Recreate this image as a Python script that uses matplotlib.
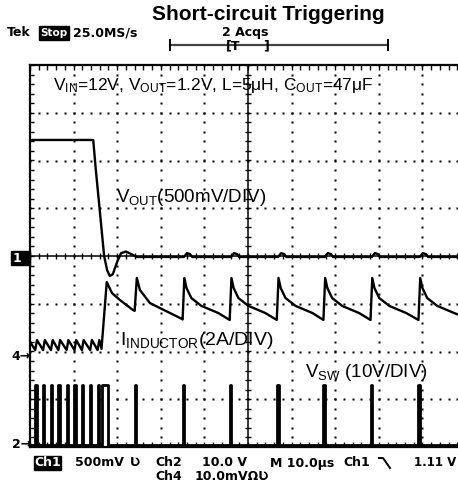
import numpy as np
import matplotlib
matplotlib.use("Agg")
import matplotlib.pyplot as plt
from matplotlib.patches import Rectangle

plt.rcParams['font.family'] = ['Liberation Sans', 'DejaVu Sans']
plt.rcParams['mathtext.fontset'] = 'custom'
plt.rcParams['mathtext.rm'] = 'Liberation Sans'
plt.rcParams['mathtext.it'] = 'Liberation Sans:italic'
plt.rcParams['mathtext.bf'] = 'Liberation Sans:bold'

# ---- data read from the scope shot (time in us) ----
# Ch1: V_OUT (V), 500 mV/div, ground at centre line
vout_t = [0.0, 14.5, 15.1, 16.1, 17.0, 17.7, 18.3, 19.0, 20.0, 20.9, 22.0, 23.2, 24.5,
          35.3, 36.0, 36.7, 37.2, 46.1, 46.8, 47.5, 48.0, 56.9, 57.6, 58.3, 58.8,
          67.6, 68.3, 69.0, 69.5, 78.4, 79.1, 79.8, 80.3, 89.4, 90.1, 90.8, 91.3, 99.0]
vout_v = [1.215, 1.215, 0.90, 0.43, 0.0, -0.15, -0.21, -0.19, -0.06, 0.03, 0.047, 0.02, -0.01,
          -0.01, 0.03, 0.02, -0.01, -0.01, 0.03, 0.02, -0.01, -0.01, 0.03, 0.02, -0.01,
          -0.01, 0.03, 0.02, -0.01, -0.01, 0.03, 0.02, -0.01, -0.01, 0.03, 0.02, -0.01, -0.01]

# Ch4: inductor current (A), 2 A/div
il_t = [0.0, 1.2, 1.6, 3.0, 3.4, 4.8, 5.2, 6.5, 6.9, 8.4, 8.8, 10.2, 10.6, 11.9, 12.3,
        13.8, 14.2, 15.5, 15.9, 16.4, 17.6, 18.8, 20.6, 23.6, 24.0, 24.5, 25.2, 27.5,
        29.8, 34.9, 35.0, 35.4, 35.9, 37.0, 39.3, 43.2, 45.8, 46.2, 46.7, 47.8, 50.1,
        54.0, 56.6, 57.0, 57.5, 58.6, 60.9, 64.8, 67.3, 67.7, 68.2, 69.3, 71.6, 75.5,
        78.1, 78.5, 79.0, 80.1, 82.4, 86.3, 89.1, 89.5, 90.0, 91.1, 93.4, 97.3, 99.0]
il_a = [0.64, 0.29, 0.71, 0.29, 0.71, 0.29, 0.71, 0.29, 0.71, 0.29, 0.71, 0.29, 0.71, 0.29, 0.71,
        0.29, 0.71, 0.29, 0.71, 0.34, 3.14, 2.68, 2.39, 1.97, 1.93, 3.31, 2.81, 2.26,
        2.05, 1.59, 1.57, 3.31, 2.89, 2.47, 2.14, 1.84, 1.55, 3.31, 2.89, 2.47, 2.14,
        1.84, 1.55, 3.31, 2.89, 2.47, 2.14, 1.84, 1.55, 3.31, 2.89, 2.47, 2.14, 1.84,
        1.55, 3.31, 2.89, 2.47, 2.14, 1.84, 1.55, 3.31, 2.89, 2.47, 2.14, 1.84, 1.72]

# Ch2: switch node pulses (V), 10 V/div
sw_rise = [1.2, 3.0, 4.8, 6.5, 8.4, 10.2, 11.9, 13.8, 15.5, 16.6,
           24.0, 35.0, 45.8, 56.6, 67.3, 78.1, 89.1]
sw_fall = [1.5, 3.3, 5.1, 6.8, 8.7, 10.5, 12.2, 14.1, 15.8, 17.8,
           24.4, 35.4, 46.2, 57.0, 67.7, 78.5, 89.5]
sw_high = 12.6

# channel settings: volts(or amps)/div and ground position in divisions
ch1_scale, ch1_pos = 0.5, 0.0
ch4_scale, ch4_pos = 2.0, -2.115
ch2_scale, ch2_pos = 10.0, -3.96
trig_level = 1.11

W, H = 458, 483
fig = plt.figure(figsize=(W / 100, H / 100), dpi=100)
fig.patch.set_facecolor('white')

# graticule spans x 30..466 px (right part cut off), y 65..447 px
gl, gr, gt, gb = 30, 466, 65, 447
ax = fig.add_axes([gl / W, 1 - gb / H, (gr - gl) / W, (gb - gt) / H])
ax.set_xlim(0, 100)
ax.set_ylim(-4, 4)
ax.set_xticks([])
ax.set_yticks([])
for s in ax.spines.values():
    s.set_linewidth(1.6)
    s.set_color('black')

# dotted division lines
minor_x = np.arange(0, 100.01, 2.0)
minor_y = np.arange(-4, 4.01, 0.2)
for xm in range(10, 100, 10):
    if xm == 50:
        continue
    ax.plot(np.full_like(minor_y, xm), minor_y, ls='none', marker='s', ms=1.5,
            mfc='black', mec='none')
for ym in range(-3, 4):
    if ym == 0:
        continue
    ax.plot(minor_x, np.full_like(minor_x, ym), ls='none', marker='s', ms=1.5,
            mfc='black', mec='none')

# centre cross with ticks
ax.axvline(50, color='black', lw=1.1)
ax.axhline(0, color='black', lw=1.1)
ax.hlines(minor_y, 49.3, 50.7, color='black', lw=1.0)
ax.vlines(minor_x, -0.07, 0.07, color='black', lw=1.0)
# frame ticks
ax.hlines(minor_y, 0, 0.9, color='black', lw=1.0)
ax.vlines(minor_x, 3.9, 4.0, color='black', lw=1.0)
ax.vlines(minor_x, -4.0, -3.9, color='black', lw=1.0)

# one axes per channel, stacked like the scope's own offsets
a1 = ax.twinx()
a1.set_ylim((-4 - ch1_pos) * ch1_scale, (4 - ch1_pos) * ch1_scale)
a4 = ax.twinx()
a4.set_ylim((-4 - ch4_pos) * ch4_scale, (4 - ch4_pos) * ch4_scale)
a2 = ax.twinx()
a2.set_ylim((-4 - ch2_pos) * ch2_scale, (4 - ch2_pos) * ch2_scale)
for a in (a1, a4, a2):
    a.set_xlim(0, 100)
    a.axis('off')

sw_t, sw_v = [0.0], [0.0]
for r, f in zip(sw_rise, sw_fall):
    sw_t += [r, r, f, f]
    sw_v += [0.0, sw_high, sw_high, 0.0]
sw_t.append(99.0)
sw_v.append(0.0)

a1.plot(vout_t, vout_v, color='black', lw=1.7)
a4.plot(il_t, il_a, color='black', lw=1.7)
a2.plot(sw_t, sw_v, color='black', lw=2.0)
a1.plot([100], [trig_level], marker='<', ms=6, color='black', clip_on=False)

# overlay in pixel coordinates for the scope read-outs and labels
ov = fig.add_axes([0, 0, 1, 1])
ov.set_xlim(0, W)
ov.set_ylim(H, 0)
ov.axis('off')
ov.patch.set_alpha(0)

ov.text(268, 15, 'Short-circuit Triggering', ha='center', va='center',
        fontsize=15, fontweight='bold')

scope = dict(fontsize=9, fontweight='bold', family='DejaVu Sans')
ov.text(7, 33, 'Tek', ha='left', va='center', **scope)
ov.add_patch(Rectangle((39, 26), 30, 14, color='black'))
ov.text(54, 33, 'Stop', ha='center', va='center', color='white',
        fontsize=7.5, fontweight='bold', family='DejaVu Sans')
ov.text(73, 33, '25.0MS/s', ha='left', va='center', **scope)
ov.text(245, 32.5, '2 Acqs', ha='center', va='center', **scope)
ov.plot([170, 388], [45, 45], color='#444444', lw=1.6)
ov.plot([170, 170], [40, 50], color='black', lw=1.4)
ov.plot([388, 388], [40, 50], color='black', lw=1.4)
ov.text(233, 46, '[T', ha='center', va='center', **scope)
ov.text(266, 46, ']', ha='center', va='center', **scope)

# channel ground markers
ov.add_patch(Rectangle((11, 251), 19, 14, color='black'))
ov.text(17, 258, '1', ha='center', va='center', color='white', **scope)
ov.text(31, 357, '4\u2192', ha='right', va='center', **scope)
ov.text(31, 445, '2\u2192', ha='right', va='center', **scope)

# bottom status lines
ov.add_patch(Rectangle((34, 456), 27, 14, color='black'))
ov.text(47.5, 463, 'Ch1', ha='center', va='center', color='white', **scope)
ov.text(75, 463, '500mV', ha='left', va='center', **scope)
ov.text(135, 463, '\u01b2', ha='center', va='center', **scope)
ov.text(155, 463, 'Ch2', ha='left', va='center', **scope)
ov.text(202, 463, '10.0 V', ha='left', va='center', **scope)
ov.text(270, 463, 'M 10.0\u00b5s', ha='left', va='center', **scope)
ov.text(343, 463, 'Ch1', ha='left', va='center', **scope)
ov.plot([379, 383, 390], [458, 458, 468], color='black', lw=1.4)
ov.text(456, 463, '1.11 V', ha='right', va='center', fontsize=8.5,
        fontweight='bold', family='DejaVu Sans')
ov.text(155, 477, 'Ch4', ha='left', va='center', **scope)
ov.text(195, 477, '10.0mV\u03a9\u01b2', ha='left', va='center', **scope)

# annotations
ov.text(53, 90, r'$\mathregular{V_{IN}}$=12V, $\mathregular{V_{OUT}}$=1.2V, L=5$\mathregular{\mu}$H, '
        r'$\mathregular{C_{OUT}}$=47$\mathregular{\mu}$F', ha='left', va='baseline', fontsize=12.5)
ov.text(116, 202, r'$\mathregular{V_{OUT}}$(500mV/DIV)', ha='left', va='baseline', fontsize=13.5)
ov.text(120, 345, r'$\mathregular{I_{INDUCTOR}}$(2A/DIV)', ha='left', va='baseline', fontsize=14)
ov.text(305, 377, r'$\mathregular{V_{SW}}$ (10V/DIV)', ha='left', va='baseline', fontsize=13.5)

fig.savefig('out.png', dpi=100)
